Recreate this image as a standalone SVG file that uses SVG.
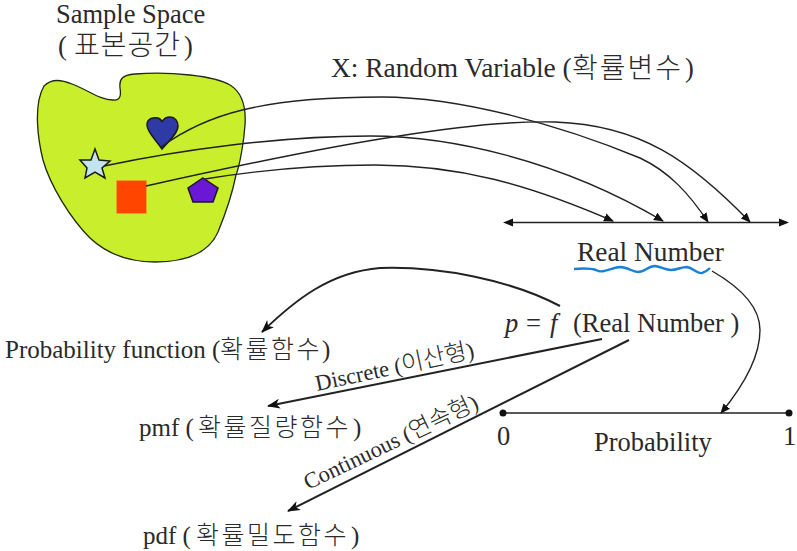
<svg xmlns="http://www.w3.org/2000/svg" width="797" height="551" viewBox="0 0 797 551">
<style>
text{font-family:"Liberation Serif","Noto Sans CJK KR",serif;fill:#2a2a2a;font-size:26.5px}
.k{font-family:"Noto Sans CJK KR",sans-serif;font-weight:300}
.ks{font-size:25px;letter-spacing:2.500px}
.kl{font-size:28px}
.kr{font-size:24px}
.m{font-size:25px}
.r{font-size:22.500px}
.l{font-size:27.400px}
.c{fill:none;stroke:#222;stroke-width:1.4}
.t{fill:none;stroke:#222;stroke-width:2}
.s{stroke:#1a1a1a;stroke-width:1.5}
</style>
<defs>
<marker id="a" markerUnits="userSpaceOnUse" markerWidth="12" markerHeight="10" refX="9" refY="5" orient="auto"><path d="M0 0.8L10 5L0 9.2Z" fill="#111"/></marker>
<marker id="o" markerUnits="userSpaceOnUse" markerWidth="14" markerHeight="12" refX="12" refY="6" orient="auto"><path d="M0 1L13 6L0 11L3.5 6Z" fill="#111"/></marker>
</defs>
<rect width="797" height="551" fill="#fff"/>
<g id="space">
<path d="M44 86C52 78 62 80 72 84C88 90 100 100 113 100C121 101 121 94 120 88C119 79 122 75 135 74C170 71 215 76 230 85C243 93 246 110 245 125C244 140 240 165 236 175C232 195 225 215 218 232C210 250 190 262 155 262C125 262 105 252 90 238C70 218 50 185 43 160C38 140 33 105 44 86Z" fill="#c9ee2b" stroke="#1f2a10" stroke-width="1.3"/>
</g>
<g id="heart"><path d="M162 149C156 140 147 132 147 125C147 118 154 117 158 118C160 119 162 121 162 122C163 120 166 117 170 117C175 117 178 121 178 126C178 133 169 141 162 149Z" fill="#2e3aa6" class="s"/></g>
<g id="star"><polygon points="95,149 99,160 110,161 102,168 105,178 95,172 85,178 87,168 80,160 91,160" fill="#c3e3ee" class="s"/></g>
<g id="square"><rect x="116.500" y="180.500" width="30" height="33" fill="#ff4500" stroke="#f5a623" stroke-width="0.6"/></g>
<g id="pentagon"><polygon points="203,178 218,188 213,202 193,202 188,188" fill="#6a17d6" class="s"/></g>
<g id="connectors">
<path class="c" marker-end="url(#a)" d="M161 147C205 115 260 97 382 97C460 97 560 125 640 158C670 172 690 195 708 222"/>
<path class="c" marker-end="url(#a)" d="M146 186C240 165 320 148 399 136C460 126 510 121 555 122C640 125 690 160 750 222"/>
<path class="c" marker-end="url(#a)" d="M104 166C180 150 280 136 370 136C450 136 560 160 663 221"/>
<path class="c" marker-end="url(#a)" d="M205 179C260 170 320 165 375 165C460 165 530 185 613 221"/>
<path d="M508 222.500H785" fill="none" stroke="#222" stroke-width="1.6"/>
<path d="M503 222.500L513 218.500V226.500Z M789 222.500L779 218.500V226.500Z" fill="#111"/>
<path class="c" marker-end="url(#a)" d="M712 271C745 290 760 310 760 330C760 360 740 390 721 413"/>
<path class="t" marker-end="url(#o)" d="M560 306C510 280 440 266 380 268C330 272 295 300 262 332"/>
<path class="t" marker-end="url(#o)" d="M602 339L268 406"/>
<path class="t" marker-end="url(#o)" d="M629 340L288 511"/>
<path d="M503 413H789" stroke="#222" stroke-width="1.5" fill="none"/>
<circle cx="503" cy="413" r="3.500" fill="#111"/><circle cx="789" cy="413" r="3.500" fill="#111"/>
<path d="M574 269C585 268 590 268 596 270C603 274 610 268 620 267C628 267 632 272 638 272C645 272 648 266 655 266C662 267 665 270 671 270C677 270 681 267 687 267C693 268 697 274 702 273C706 272 708 270 710 268" fill="none" stroke="#1a80d8" stroke-width="2.400"/>
</g>
<g id="labels">
<text x="56" y="23">Sample Space</text>
<text x="58" y="55">(</text><text x="74" y="55" class="k kl" letter-spacing="1">표본공간</text><text x="184" y="55">)</text>
<text x="331" y="77" class="l">X: Random Variable (</text><text x="572" y="78" class="k kl" letter-spacing="2">확률변수</text><text x="685" y="77">)</text>
<text x="577" y="261" class="l">Real Number</text>
<text x="505" y="332" font-style="italic">p</text><text x="526" y="332">=</text><text x="550" y="332" font-style="italic">f</text>
<text x="573" y="332">(Real Number )</text>
<text x="5" y="358" class="m">Probability function (</text><text x="220" y="358" class="k ks">확률함수</text><text x="322" y="358" class="m">)</text>
<text x="139" y="436" class="m">pmf (</text><text x="198" y="436" class="k ks">확률질량함수</text><text x="353" y="436" class="m">)</text>
<text x="143" y="544" class="m">pdf (</text><text x="196" y="544" class="k ks">확률밀도함수</text><text x="351" y="544" class="m">)</text>
<text x="497" y="445">0</text>
<text x="783" y="445">1</text>
<text x="594" y="451">Probability</text>
<text transform="translate(317 391) rotate(-12)" class="r">Discrete (<tspan class="k kr">이산형</tspan>)</text>
<text transform="translate(308 490) rotate(-25.500)" class="r">Continuous (<tspan class="k kr">연속형</tspan>)</text>
</g>
</svg>
